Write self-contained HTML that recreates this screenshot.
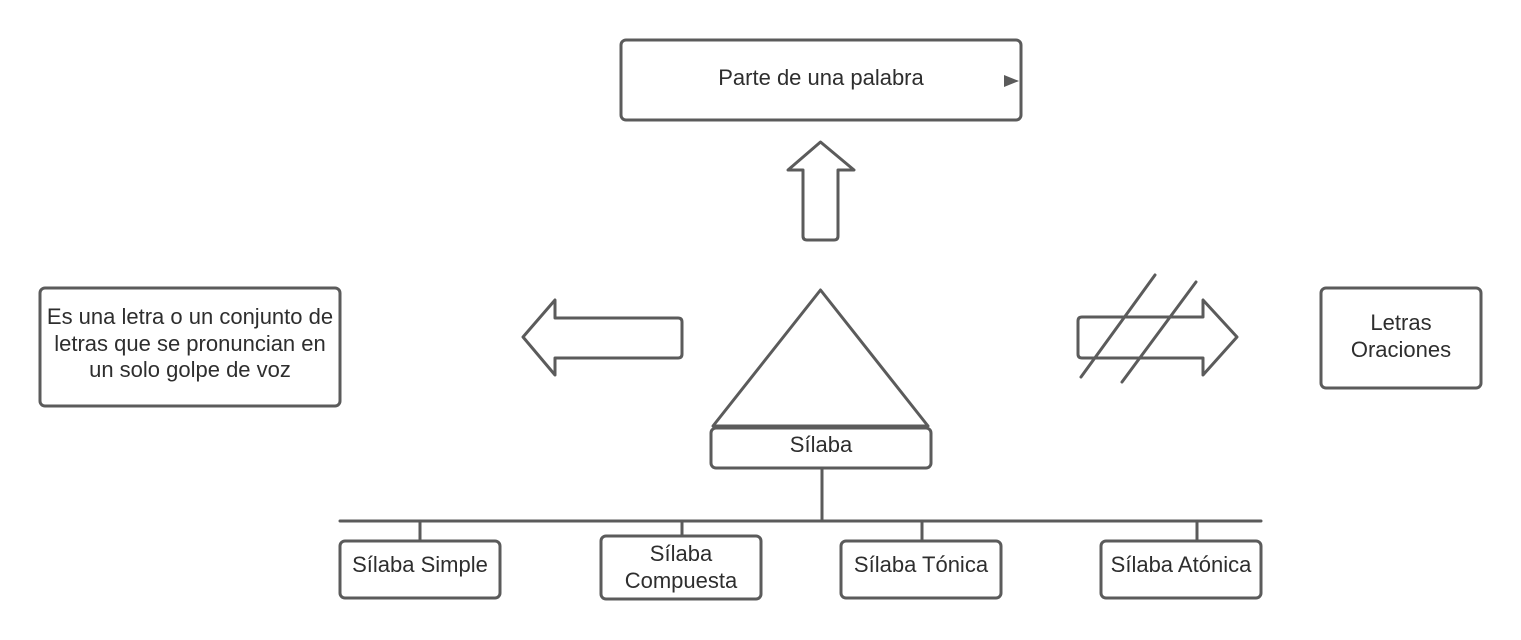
<!DOCTYPE html>
<html>
<head>
<meta charset="utf-8">
<style>
  html,body{margin:0;padding:0;background:#fff;}
  svg{display:block;}
  text{font-family:"Liberation Sans",Arial,sans-serif;font-size:22px;fill:#2e2e2e;}
</style>
</head>
<body>
<svg width="1521" height="640" viewBox="0 0 1521 640" xmlns="http://www.w3.org/2000/svg">
  <g fill="none" stroke="#5b5b5b" stroke-width="3" stroke-linejoin="round" stroke-linecap="round">
    <!-- top box -->
    <rect x="621" y="40" width="400" height="80" rx="5"/>
    <!-- up arrow -->
    <path d="M820.5,142 L854,170 L838,170 L838,236 Q838,240 834,240 L807,240 Q803,240 803,236 L803,170 L788,170 Z"/>
    <!-- left arrow -->
    <path d="M523,337 L555,300 L555,318 L678,318 Q682,318 682,322 L682,354 Q682,358 678,358 L555,358 L555,375 Z"/>
    <!-- triangle -->
    <path d="M820.5,290 L928,426 L713,426 Z"/>
    <!-- silaba box -->
    <rect x="711" y="428" width="220" height="40" rx="5"/>
    <!-- connectors -->
    <line x1="822" y1="468" x2="822" y2="521"/>
    <line x1="340" y1="521" x2="1261" y2="521"/>
    <line x1="420" y1="521" x2="420" y2="541"/>
    <line x1="682" y1="521" x2="682" y2="536"/>
    <line x1="922" y1="521" x2="922" y2="541"/>
    <line x1="1197" y1="521" x2="1197" y2="541"/>
    <!-- bottom boxes -->
    <rect x="340" y="541" width="160" height="57" rx="5"/>
    <rect x="601" y="536" width="160" height="63" rx="5"/>
    <rect x="841" y="541" width="160" height="57" rx="5"/>
    <rect x="1101" y="541" width="160" height="57" rx="5"/>
    <!-- right arrow -->
    <path d="M1237,337 L1203,300 L1203,317 L1082,317 Q1078,317 1078,321 L1078,354 Q1078,358 1082,358 L1203,358 L1203,375 Z"/>
    <line x1="1155" y1="275" x2="1081" y2="377"/>
    <line x1="1196" y1="282" x2="1122" y2="382"/>
    <!-- right box -->
    <rect x="1321" y="288" width="160" height="100" rx="5"/>
    <!-- left box -->
    <rect x="40" y="288" width="300" height="118" rx="5"/>
  </g>
  <!-- small arrowhead in top box -->
  <path d="M1004,75 L1019,81 L1004,87 Z" fill="#5b5b5b"/>

  <text x="821" y="85" text-anchor="middle">Parte de una palabra</text>
  <text x="821" y="452" text-anchor="middle">Sílaba</text>

  <text x="190" y="324" text-anchor="middle">Es una letra o un conjunto de</text>
  <text x="190" y="351" text-anchor="middle">letras que se pronuncian en</text>
  <text x="190" y="377" text-anchor="middle">un solo golpe de voz</text>

  <text x="1401" y="330" text-anchor="middle">Letras</text>
  <text x="1401" y="357" text-anchor="middle">Oraciones</text>

  <text x="420" y="572" text-anchor="middle">Sílaba Simple</text>
  <text x="681" y="561" text-anchor="middle">Sílaba</text>
  <text x="681" y="588" text-anchor="middle">Compuesta</text>
  <text x="921" y="572" text-anchor="middle">Sílaba Tónica</text>
  <text x="1181" y="572" text-anchor="middle">Sílaba Atónica</text>
</svg>
</body>
</html>
